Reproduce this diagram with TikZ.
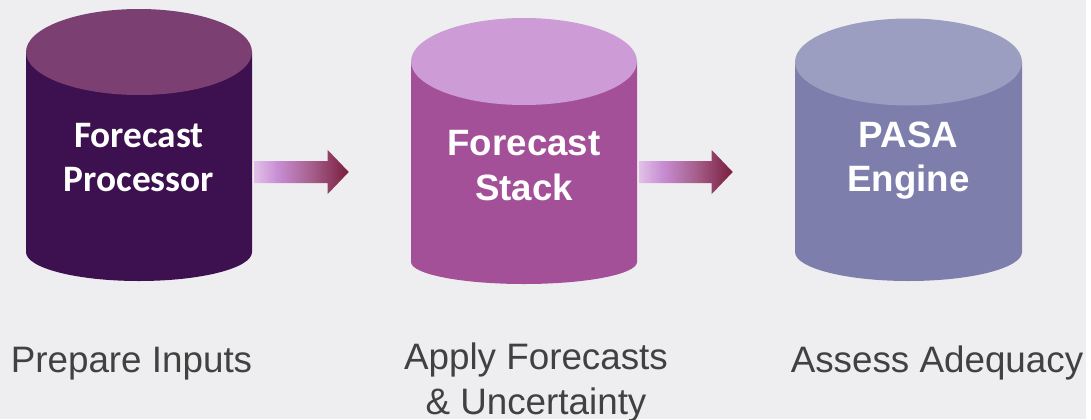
\documentclass[tikz,border=0pt]{standalone}
\usepackage{fontspec}
\setmainfont{Liberation Sans}
\newfontfamily\calibrifont{Carlito}
\usetikzlibrary{calc}

\definecolor{canvas}{HTML}{EEEEF0}
\definecolor{procbody}{HTML}{3D1050}
\definecolor{proclid}{HTML}{7C3F72}
\definecolor{stackbody}{HTML}{A35099}
\definecolor{stacklid}{HTML}{CD9BD5}
\definecolor{enginebody}{HTML}{7D7EAC}
\definecolor{enginelid}{HTML}{9B9EC1}
\definecolor{captiongray}{HTML}{414141}
\definecolor{flowA}{HTML}{E2C0E7}
\definecolor{flowB}{HTML}{C78DD3}
\definecolor{flowC}{HTML}{A6608D}
\definecolor{flowD}{HTML}{7A1C3C}

% the filled path spans the middle half (25bp to 75bp) of the shading
\pgfdeclarehorizontalshading{flowgrad}{100bp}{%
  color(0bp)=(flowA); color(25bp)=(flowA); color(37.5bp)=(flowB);
  color(55bp)=(flowC); color(75bp)=(flowD); color(100bp)=(flowD)}

\tikzset{
  drumframe/.style={rectangle, draw=none, inner sep=0pt, minimum height=150pt},
  lidtext/.style={text=white, align=center, inner sep=0pt, anchor=north},
  caption/.style={text=captiongray, align=center, inner sep=0pt,
    font=\fontsize{27.6}{33.75}\selectfont},
}

% #1 name, #2 centre x, #3 half width, #4 lid centre y, #5 lid radius,
% #6 base centre y, #7 base radius, #8 body colour, #9 lid colour
\newcommand\drum[9]{%
  \fill[#8] (#2-#3,#4) -- (#2-#3,#6)
    arc[start angle=180, end angle=0, x radius=#3, y radius=#7]
    -- (#2+#3,#4) -- cycle;
  \fill[#9] (#2,#4) ellipse[x radius=#3, y radius=#5];
  \node[drumframe, minimum width=2*#3*0.75pt] (#1) at (#2,172) {};
}

% shaded block arrow between two drums
\newcommand\flow[2]{%
  \path[shading=flowgrad] let \p1=(#1.east), \p2=(#2.west) in
    (\x1+1.5pt,\y1+8.25pt) -- (\x2-62.25pt,\y1+8.25pt)
    -- (\x2-62.25pt,\y1+16.5pt) -- (\x2-46.5pt,\y1)
    -- (\x2-62.25pt,\y1-16.5pt) -- (\x2-62.25pt,\y1-8.25pt)
    -- (\x1+1.5pt,\y1-8.25pt) -- cycle;
}

\begin{document}
\begin{tikzpicture}[x=0.75pt, y=-0.75pt]
  \useasboundingbox (0,0) rectangle (1091,419);
  \fill[canvas] (0,0) rectangle (1086,419);
  \fill[white] (1086,0) rectangle (1091,419);

  \drum{proc}{139}{113}{52}{43}{252}{29}{procbody}{proclid}
  \drum{stack}{524}{113}{61.5}{43.5}{262}{22}{stackbody}{stacklid}
  \drum{engine}{908.5}{113.5}{62}{43.5}{252}{29}{enginebody}{enginelid}

  \node[lidtext, font=\calibrifont\bfseries\fontsize{28}{33}\selectfont]
    (proctext) at (139,123) {Forecast\\Processor};
  \node[lidtext, font=\bfseries\fontsize{27.5}{33.75}\selectfont]
    (stacktext) at (524,130) {Forecast\\Stack};
  \node[lidtext, font=\bfseries\fontsize{27.5}{33}\selectfont]
    (enginetext) at (908.5,122) {PASA\\Engine};

  \flow{proc}{stack}
  \flow{stack}{engine}

  \node[caption, anchor=base] (prepare) at (131.5,372) {Prepare Inputs};
  \node[caption, anchor=north] (apply) at (536,343) {Apply Forecasts\\\& Uncertainty};
  \node[caption, anchor=base] (assess) at (937,372) {Assess Adequacy};
\end{tikzpicture}
\end{document}
